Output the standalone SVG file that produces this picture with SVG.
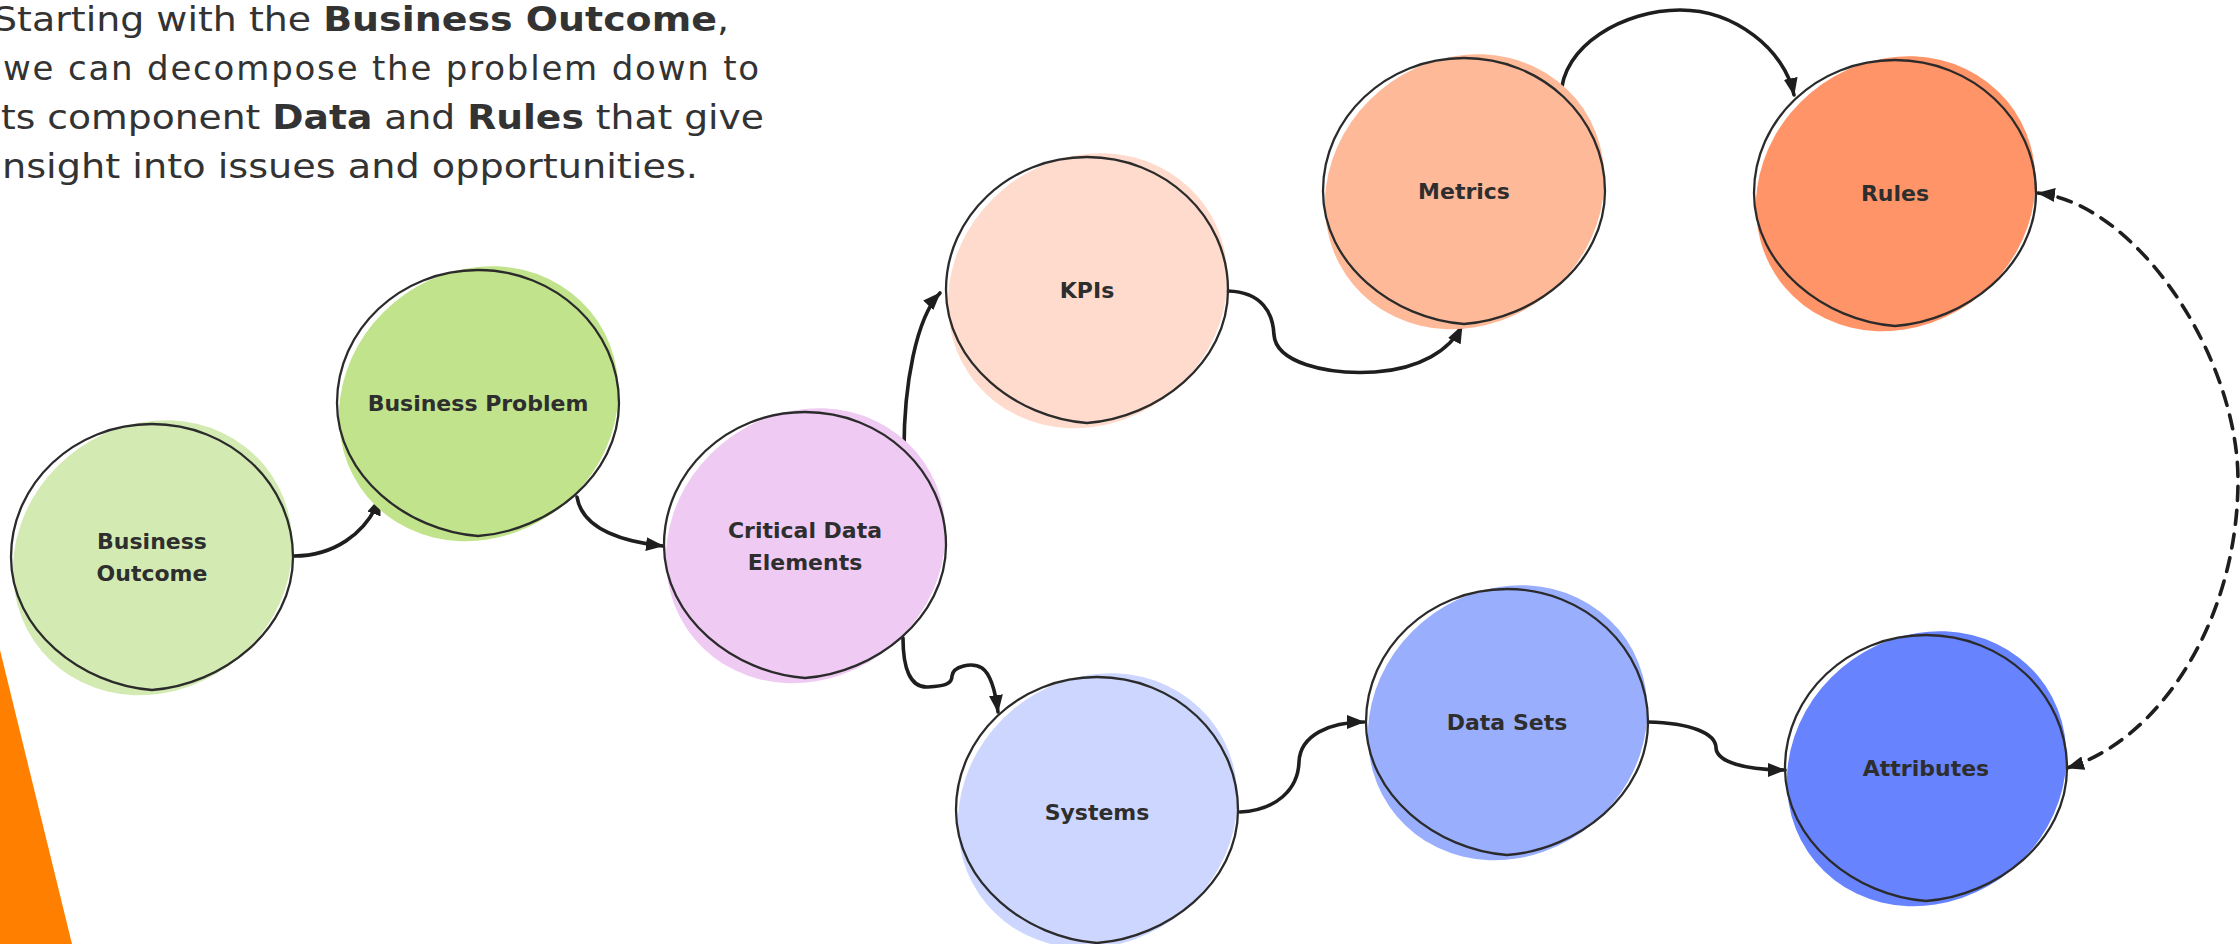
<svg xmlns="http://www.w3.org/2000/svg" width="2240" height="944" viewBox="0 0 2240 944">
<style>
.para{font-family:"Comic Sans MS","DejaVu Sans",sans-serif;font-size:34px;fill:#333333}
.b{font-weight:bold}
.lbl{font-family:"Comic Sans MS","DejaVu Sans",sans-serif;font-size:22px;font-weight:bold;fill:#2e2e2e;text-anchor:middle}
.outline{fill:none;stroke:#2b2b2b;stroke-width:2.3;stroke-linejoin:round}
.conn{fill:none;stroke:#1e1e1e;stroke-width:3.6;stroke-linecap:round}
.dash{stroke-dasharray:14 10}
</style>
<defs>
<path id="blob" d="M0,133 C-70,128 -141,73.4 -141,0 C-141,-73.4 -77.8,-133 0,-133 C77.8,-133 141,-73.4 141,0 C141,73.4 70,128 0,133 Z"/>
<ellipse id="fillshape" cx="0" cy="1" rx="145" ry="132" transform="rotate(-40)"/>
<marker id="ah" viewBox="0 0 18 14" refX="17" refY="7" markerWidth="18" markerHeight="14" markerUnits="userSpaceOnUse" orient="auto-start-reverse">
<path d="M0,0 L18,7 L0,14 Z" fill="#1e1e1e"/>
</marker>
</defs>
<rect width="2240" height="944" fill="#ffffff"/>
<polygon points="0,650 72,944 0,944" fill="#ff7f00"/>
<g id="intro">
<text class="para" x="-7" y="31" textLength="736" lengthAdjust="spacingAndGlyphs">Starting with the <tspan class="b">Business Outcome</tspan>,</text>
<text class="para" x="3" y="80" letter-spacing="1.8">we can decompose the problem down to</text>
<text class="para" x="1" y="129" textLength="763" lengthAdjust="spacingAndGlyphs">ts component <tspan class="b">Data</tspan> and <tspan class="b">Rules</tspan> that give</text>
<text class="para" x="2" y="178" textLength="696" lengthAdjust="spacingAndGlyphs">nsight into issues and opportunities.</text>
</g>
<g id="connectors">
<path class="conn" d="M294,556 C332,556 366,535 380,498" marker-end="url(#ah)"/>
<path class="conn" d="M577,497 C582,527 618,541 663,546" marker-end="url(#ah)"/>
<path class="conn" d="M904,450 C904,385 916,318 940,293" marker-end="url(#ah)"/>
<path class="conn" d="M903,638 C903,668 910,688 928,687 C945,686 952,684 952,676 C953,666 972,662 982,668 C992,675 996,696 998,712" marker-end="url(#ah)"/>
<path class="conn" d="M1228,291 C1262,292 1273,313 1274,335 C1276,362 1325,375 1375,372 C1420,369 1450,350 1462,326" marker-end="url(#ah)"/>
<path class="conn" d="M1561,97 C1561,45 1625,10 1680,10 C1735,10 1785,50 1794,95" marker-end="url(#ah)"/>
<path class="conn" d="M1240,812 C1276,810 1298,790 1299,762 C1300,735 1330,722 1364,722" marker-end="url(#ah)"/>
<path class="conn" d="M1648,722 C1690,723 1716,733 1716,748 C1717,762 1745,770 1785,770" marker-end="url(#ah)"/>
<path class="conn dash" d="M2067,768 C2160,740 2238,620 2238,480 C2238,360 2140,205 2038,193" marker-start="url(#ah)" marker-end="url(#ah)"/>
</g>
<g id="business-outcome" transform="translate(152,557)">
<use href="#fillshape" fill="#d3ebb3"/><use href="#blob" class="outline"/>
<text class="lbl" x="0" y="-8">Business</text><text class="lbl" x="0" y="24">Outcome</text>
</g>
<g id="business-problem" transform="translate(478,403)">
<use href="#fillshape" fill="#c0e38b"/><use href="#blob" class="outline"/>
<text class="lbl" x="0" y="8">Business Problem</text>
</g>
<g id="critical-data-elements" transform="translate(805,545)">
<use href="#fillshape" fill="#efcaf3"/><use href="#blob" class="outline"/>
<text class="lbl" x="0" y="-7">Critical Data</text><text class="lbl" x="0" y="25">Elements</text>
</g>
<g id="kpis" transform="translate(1087,290)">
<use href="#fillshape" fill="#fedbcc"/><use href="#blob" class="outline"/>
<text class="lbl" x="0" y="8">KPIs</text>
</g>
<g id="metrics" transform="translate(1464,191)">
<use href="#fillshape" fill="#feb999"/><use href="#blob" class="outline"/>
<text class="lbl" x="0" y="8">Metrics</text>
</g>
<g id="rules" transform="translate(1895,193)">
<use href="#fillshape" fill="#ff9468"/><use href="#blob" class="outline"/>
<text class="lbl" x="0" y="8">Rules</text>
</g>
<g id="systems" transform="translate(1097,810)">
<use href="#fillshape" fill="#ccd6fe"/><use href="#blob" class="outline"/>
<text class="lbl" x="0" y="10">Systems</text>
</g>
<g id="data-sets" transform="translate(1507,722)">
<use href="#fillshape" fill="#9aaefe"/><use href="#blob" class="outline"/>
<text class="lbl" x="0" y="8">Data Sets</text>
</g>
<g id="attributes" transform="translate(1926,768)">
<use href="#fillshape" fill="#6783fe"/><use href="#blob" class="outline"/>
<text class="lbl" x="0" y="8">Attributes</text>
</g>
</svg>
